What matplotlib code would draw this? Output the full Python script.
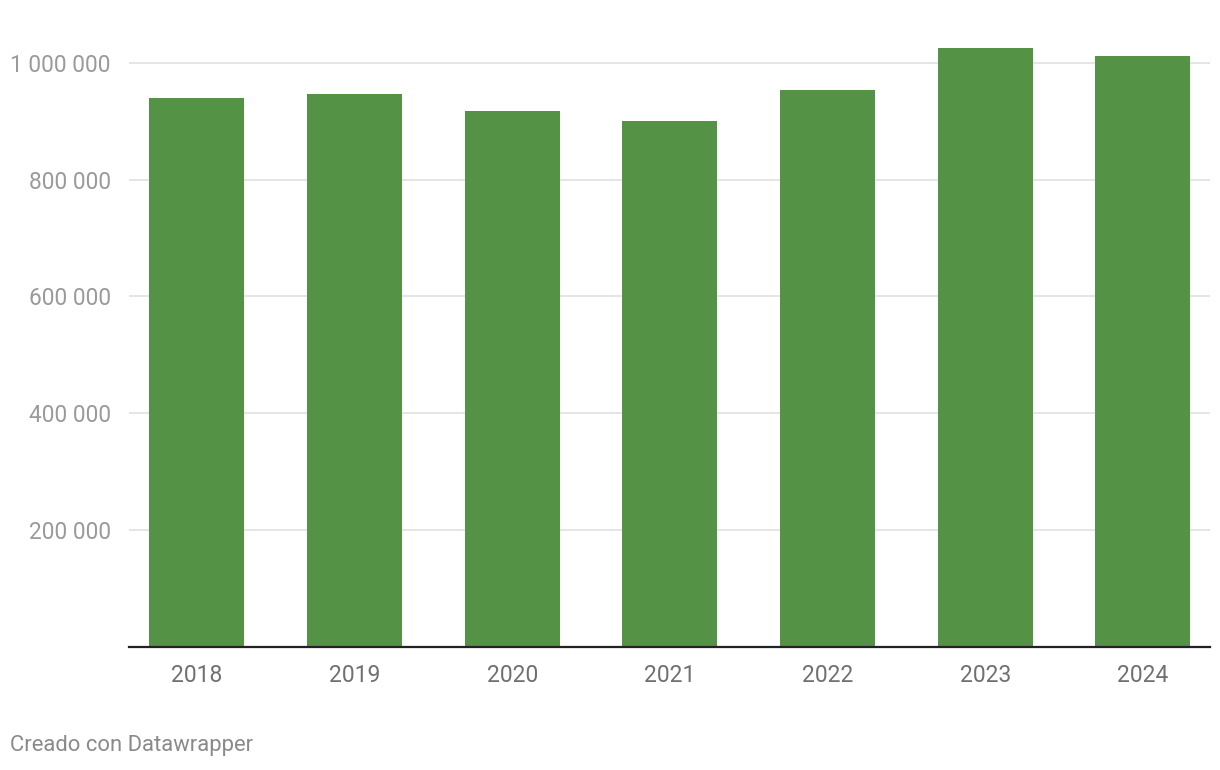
import matplotlib
matplotlib.use("Agg")
import matplotlib.pyplot as plt
from matplotlib.ticker import FuncFormatter

years = ["2018", "2019", "2020", "2021", "2022", "2023", "2024"]
values = [940000, 947000, 918000, 901000, 954000, 1026000, 1012000]
yticks = [200000, 400000, 600000, 800000, 1000000]

plt.rcParams["font.family"] = ["Roboto", "DejaVu Sans"]

fig = plt.figure(figsize=(12.2, 7.7), dpi=100)
ax = fig.add_axes([129 / 1220, 123 / 770, 1081 / 1220, 631 / 770])

x = range(len(years))
ax.bar(x, values, width=0.603, color="#549346", zorder=2)

ax.set_xlim(-0.43, len(years) - 1 + 0.426)
ax.set_ylim(0, 1080000)
ax.set_yticks(yticks)
ax.yaxis.set_major_formatter(FuncFormatter(lambda v, p: f"{int(v):,}".replace(",", " ")))
ax.set_xticks(list(x))
ax.set_xticklabels(years)

ax.grid(axis="y", color="#e3e3e3", linewidth=1.3, zorder=0)
for s in ["top", "right", "left"]:
    ax.spines[s].set_visible(False)
ax.spines["bottom"].set_color("#222222")
ax.spines["bottom"].set_linewidth(1.6)
ax.spines["bottom"].set_zorder(3)

ax.tick_params(axis="y", length=0, pad=13, labelsize=16.3, labelcolor="#9a9a9a")
ax.tick_params(axis="x", length=0, pad=12.5, labelsize=16.5, labelcolor="#707070")

fig.text(10 / 1220, 1 - 746 / 770, "Creado con Datawrapper", fontsize=15.8,
         color="#8a8a8a", ha="left", va="center")

fig.savefig("out.png", dpi=100)
